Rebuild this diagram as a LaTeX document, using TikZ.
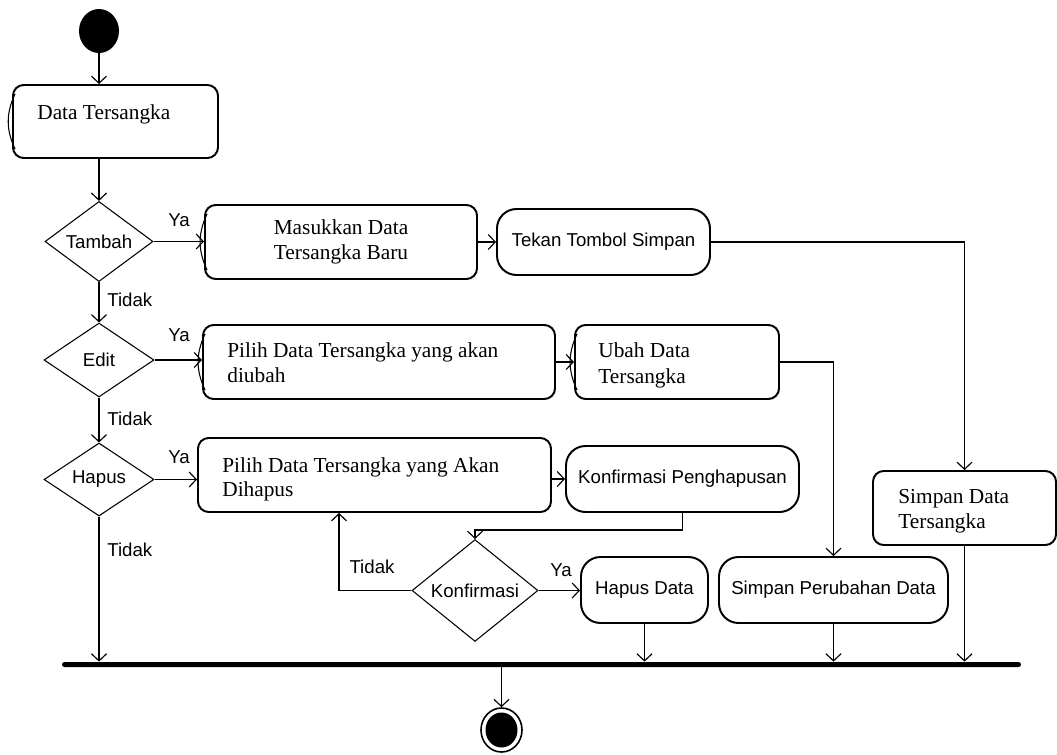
\documentclass[tikz,border=0pt]{standalone}
\usepackage{fontspec}
\setmainfont{Liberation Serif}
\setsansfont{Liberation Sans}
\usetikzlibrary{arrows.meta,shapes.geometric,calc}
\newcommand\pxu[1]{#1*0.5625pt}
\tikzset{
 act/.style={draw, line width=1.1pt, rounded corners=6pt, inner sep=0pt, font=\rmfamily\fontsize{12}{14}\selectfont},
 pill/.style={act, rounded corners=11pt, font=\sffamily\fontsize{10.5}{12.6}\selectfont},
 dec/.style={draw, diamond, line width=0.6pt, inner sep=0pt, font=\sffamily\fontsize{10.5}{12.6}\selectfont},
 lbl/.style={font=\sffamily\fontsize{10.5}{12.6}\selectfont, inner sep=0pt},
 txt/.style={font=\rmfamily\fontsize{12}{14}\selectfont, inner sep=0pt, anchor=base west},
 flow/.style={line width=0.65pt, -{Straight Barb[length=4pt,width=8.5pt,line width=0.65pt]}},
 ghost/.style={line width=0.6pt},
}
\begin{document}
\begin{tikzpicture}[x=0.5625pt,y=-0.5625pt]
\useasboundingbox (0,0) rectangle (1057,754);
% start
\node[ellipse, fill=black, minimum width=\pxu{40}, minimum height=\pxu{44}, inner sep=0pt] (start) at (99,31) {};
% boxes
\node[act, minimum width=\pxu{205}, minimum height=\pxu{73}] (dt) at (115.5,121.5) {};
\node[txt] (dtT) at (37,119) {Data Tersangka};
\node[dec, minimum width=\pxu{108}, minimum height=\pxu{73}] (tambah) at (99,241.5) {Tambah};
\node[act, align=center, minimum width=\pxu{272}, minimum height=\pxu{74}] (mdb) at (341,242) {Masukkan Data\\Tersangka Baru};
\node[pill, minimum width=\pxu{213}, minimum height=\pxu{66}] (tekan) at (603.5,242) {Tekan Tombol Simpan};
\node[dec, minimum width=\pxu{110}, minimum height=\pxu{74}] (edit) at (99,360) {Edit};
\node[act, minimum width=\pxu{352}, minimum height=\pxu{74}] (pilihE) at (379,362) {};
\node[txt] (pilihET1) at (227,357) {Pilih Data Tersangka yang akan};
\node[txt] (pilihET2) at (227,382) {diubah};
\node[act, minimum width=\pxu{204}, minimum height=\pxu{74}] (ubah) at (677,362) {};
\node[txt] (ubahT1) at (598,357) {Ubah Data};
\node[txt] (ubahT2) at (598,383) {Tersangka};
\node[dec, minimum width=\pxu{110}, minimum height=\pxu{73}] (hapus) at (99,479.5) {Hapus};
\node[act, minimum width=\pxu{353}, minimum height=\pxu{74}] (pilihH) at (374.5,475) {};
\node[txt] (pilihHT1) at (222,472) {Pilih Data Tersangka yang Akan};
\node[txt] (pilihHT2) at (222,496) {Dihapus};
\node[pill, minimum width=\pxu{233}, minimum height=\pxu{66}] (konfP) at (682.5,479) {Konfirmasi Penghapusan};
\node[dec, minimum width=\pxu{126}, minimum height=\pxu{81}] (konfD) at (475,590.5) {Konfirmasi};
\node[pill, minimum width=\pxu{127}, minimum height=\pxu{66}] (hapusD) at (644.5,590) {Hapus Data};
\node[pill, minimum width=\pxu{229}, minimum height=\pxu{66}] (simpanP) at (833.5,590) {Simpan Perubahan Data};
\node[act, minimum width=\pxu{183}, minimum height=\pxu{74}] (simpanD) at (964.5,508) {};
\node[txt] (simpanDT1) at (898,503) {Simpan Data};
\node[txt] (simpanDT2) at (898,528) {Tersangka};
% bar and end
\node[fill=black, minimum width=\pxu{959}, minimum height=\pxu{5}, inner sep=0pt, rounded corners=1.4pt] (bar) at (541.5,664.5) {};
\node[ellipse, draw, line width=0.9pt, minimum width=\pxu{41}, minimum height=\pxu{44}, inner sep=0pt] (end) at (501.5,730) {};
\node[ellipse, fill=black, minimum width=\pxu{32}, minimum height=\pxu{35}, inner sep=0pt] (endIn) at (end.center) {};
% ghost edges
\draw[ghost] ($(dt.north west)+(3,10)$) to[bend right=25] ($(dt.south west)+(3,-10)$);
\draw[ghost] ($(mdb.north west)+(3,10)$) to[bend right=25] ($(mdb.south west)+(3,-10)$);
\draw[ghost] ($(pilihE.north west)+(3,10)$) to[bend right=25] ($(pilihE.south west)+(3,-10)$);
\draw[ghost] ($(ubah.north west)+(3,10)$) to[bend right=25] ($(ubah.south west)+(3,-10)$);
% connectors
\draw[flow] (start) -- (start |- dt.north);
\draw[flow] (start |- dt.south) -- (tambah.north);
\draw[flow] (tambah.east) -- (tambah.east -| mdb.west);
\draw[flow] (mdb.east) -- (tekan.west);
\draw[flow] (tekan.east) -| (simpanD.north);
\draw[flow] (tambah.south) -- (edit.north);
\draw[flow] (edit.east) -- (edit.east -| pilihE.west);
\draw[flow] (pilihE.east) -- (ubah.west);
\draw[flow] (ubah.east) -| (simpanP.north);
\draw[flow] (edit.south) -- (hapus.north);
\draw[flow] (hapus.east) -- (hapus.east -| pilihH.west);
\draw[flow] (pilihH.east |- konfP.west) -- (konfP.west);
\coordinate (kturn) at (682.5,530);
\draw[flow] (konfP.south) -- (kturn) -| (konfD.north);
\draw[flow] (konfD.west) -| ($(pilihH.south west)!0.4!(pilihH.south east)$);
\draw[flow] (konfD.east) -- (konfD.east -| hapusD.west);
\draw[flow] (hapusD.south) -- (hapusD.south |- bar.north);
\draw[flow] (simpanP.south) -- (simpanP.south |- bar.north);
\draw[flow] (simpanD.south) -- (simpanD.south |- bar.north);
\draw[flow] (hapus.south) -- (hapus.south |- bar.north);
\draw[flow] (end.north |- bar.south) -- (end.north);
% labels
\node[lbl] (ya1) at (179,220) {Ya};
\node[lbl] (ya2) at (179,335) {Ya};
\node[lbl] (ya3) at (179,457) {Ya};
\node[lbl] (ya4) at (561,570) {Ya};
\node[lbl, anchor=west] (tidak1) at (107,300) {Tidak};
\node[lbl, anchor=west] (tidak2) at (107,419) {Tidak};
\node[lbl, anchor=west] (tidak3) at (107,549.5) {Tidak};
\node[lbl] (tidak4) at (372,567) {Tidak};
\end{tikzpicture}
\end{document}
